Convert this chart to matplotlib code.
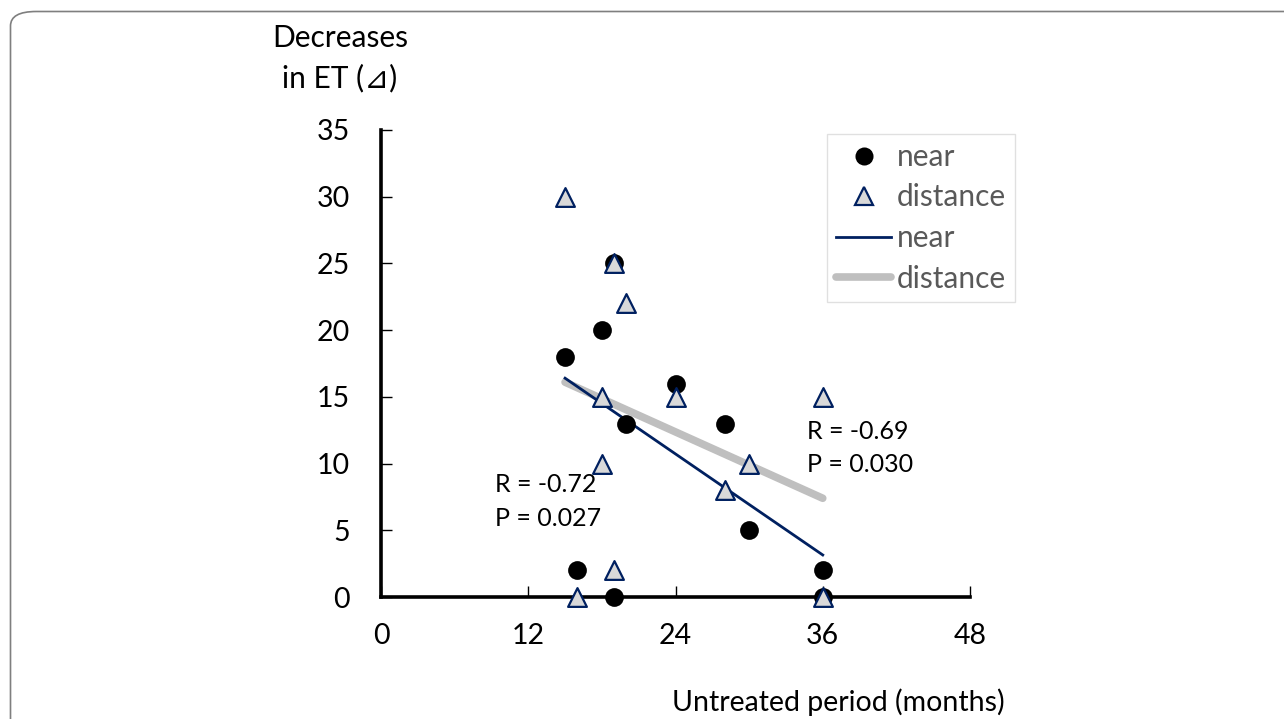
import matplotlib
matplotlib.use("Agg")
import matplotlib.pyplot as plt
from matplotlib.patches import FancyBboxPatch
from matplotlib.lines import Line2D

plt.rcParams['font.family'] = ['Lato', 'DejaVu Sans']

# Data
near_x = [15, 18, 19, 24, 20, 28, 30, 16, 36, 19, 36]
near_y = [18, 20, 25, 16, 13, 13, 5, 2, 2, 0, 0]
dist_x = [15, 19, 20, 18, 24, 36, 18, 30, 28, 19, 16, 36]
dist_y = [30, 25, 22, 15, 15, 15, 10, 10, 8, 2, 0, 0]
trend_x = [15, 36]
near_trend_y = [16.4, 3.15]
dist_trend_y = [16.1, 7.4]
x_ticks = [0, 12, 24, 36, 48]
y_ticks = [0, 5, 10, 15, 20, 25, 30, 35]
near_stats = ["R = -0.72", "P = 0.027"]
dist_stats = ["R = -0.69", "P = 0.030"]

NAVY = "#002060"
GREY = "#bfbfbf"
TRI_FACE = "#d9d9d9"
W, H = 1284, 719

fig = plt.figure(figsize=(W / 100, H / 100), dpi=100)
ax = fig.add_axes([381 / W, 1 - 597 / H, (970 - 381) / W, (597 - 130) / H])

# frame around figure
frame = FancyBboxPatch((10.5 / W, -0.2), 1.2, 1.2 + (1 - 11.5 / H) - 1.0,
                       boxstyle="round,pad=0,rounding_size=0.02",
                       transform=fig.transFigure, fill=False,
                       edgecolor="#7f7f7f", linewidth=1.2, clip_on=False)
fig.patches.append(frame)

ax.plot(trend_x, dist_trend_y, color=GREY, linewidth=5.5, solid_capstyle='round', zorder=2)
ax.plot(trend_x, near_trend_y, color=NAVY, linewidth=2.0, zorder=2.5)
ax.scatter(near_x, near_y, s=13.5 ** 2, color="black", marker='o', zorder=3, clip_on=False, linewidths=0)
ax.scatter(dist_x, dist_y, s=13.5 ** 2, facecolor=TRI_FACE, edgecolor=NAVY, marker='^',
           linewidths=1.6, zorder=4, clip_on=False)

ax.set_xlim(0, 48)
ax.set_ylim(0, 35)
ax.set_xticks(x_ticks)
ax.set_yticks(y_ticks)
for s in ['top', 'right']:
    ax.spines[s].set_visible(False)
for s in ['left', 'bottom']:
    ax.spines[s].set_linewidth(2.6)
ax.tick_params(axis='both', direction='in', length=8, width=1.0, labelsize=20.5, colors='black')
ax.tick_params(axis='y', pad=22.5)
ax.tick_params(axis='x', pad=19)

ax.text(9.3, 8.4, near_stats[0], fontsize=18, va='center', ha='left')
ax.text(9.3, 5.9, near_stats[1], fontsize=18, va='center', ha='left')
ax.text(34.7, 12.4, dist_stats[0], fontsize=18, va='center', ha='left')
ax.text(34.7, 9.9, dist_stats[1], fontsize=18, va='center', ha='left')

fig.text(340 / W, 1 - 38 / H, "Decreases", fontsize=21.5, ha='center', va='center')
fig.text(340 / W, 1 - 78 / H, "in ET (⊿)", fontsize=21.5, ha='center', va='center')
fig.text(838 / W, 1 - 702 / H, "Untreated period (months)", fontsize=20.5, ha='center', va='center')

handles = [
    Line2D([], [], linestyle='none', marker='o', markersize=13, color='black', markeredgewidth=0),
    Line2D([], [], linestyle='none', marker='^', markersize=13, markerfacecolor=TRI_FACE,
           markeredgecolor=NAVY, markeredgewidth=1.6),
    Line2D([], [], color=NAVY, linewidth=2.0),
    Line2D([], [], color=GREY, linewidth=5.5, solid_capstyle='round'),
]
labels = ["near", "distance", "near", "distance"]
leg = ax.legend(handles, labels, loc='upper left', bbox_to_anchor=((827 - 381) / (970 - 381), (597 - 134) / (597 - 130)),
                frameon=True, fancybox=False, edgecolor="#d9d9d9", fontsize=21.5,
                labelcolor="#595959", handlelength=1.85, handletextpad=0.2,
                borderpad=0.3, labelspacing=0.42, borderaxespad=0)
leg.get_frame().set_linewidth(1.0)

fig.savefig("out.png", dpi=100)
